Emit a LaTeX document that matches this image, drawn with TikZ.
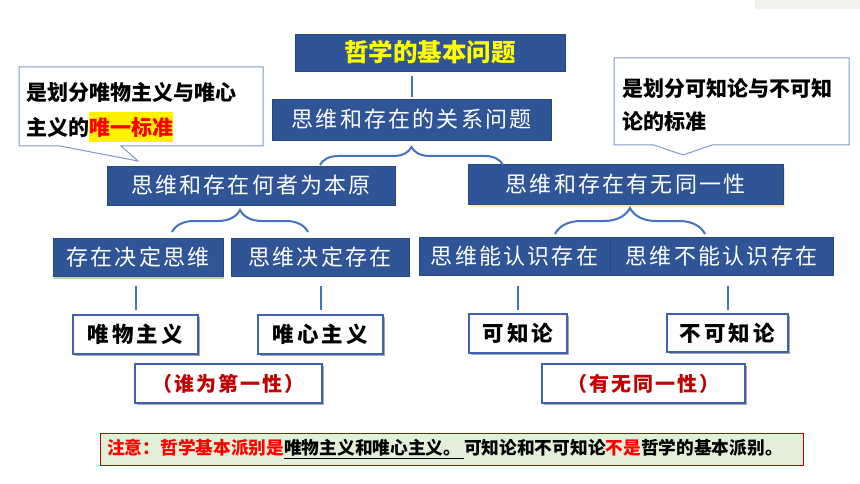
\documentclass[tikz,border=0pt]{standalone}
\usepackage{fontspec}
\setmainfont{Noto Sans CJK SC}
\newfontfamily\kaifont[LetterSpace=10]{Noto Sans CJK SC}
\newfontfamily\wfont[LetterSpace=14]{Noto Sans CJK SC}
\newfontfamily\rfont[LetterSpace=10]{Noto Sans CJK SC}
\usetikzlibrary{shadows,decorations.pathreplacing}
\definecolor{dblue}{HTML}{2F5597}
\definecolor{lblue}{HTML}{4472C4}
\definecolor{wborder}{HTML}{3F62B0}
\definecolor{cborder}{HTML}{7F9BD0}
\definecolor{notefill}{HTML}{E2F0D9}
\definecolor{darkred}{HTML}{C00000}
\definecolor{brightred}{HTML}{FF0000}
\definecolor{titleyellow}{HTML}{FFFF00}
\definecolor{stripcol}{HTML}{F2F2EC}
\definecolor{glowyellow}{HTML}{FFE699}
\definecolor{glowgreen}{HTML}{A9D18E}
\setlength{\fboxsep}{0pt}
\begin{document}
\begin{tikzpicture}[x=1pt,y=-1pt,
  bluebox/.style={fill=dblue, draw=dblue!85!black, line width=0.5pt, text=white, inner sep=0pt,
    font=\kaifont\fontsize{22}{22}\selectfont},
  whitebox/.style={fill=white, draw=wborder, line width=2.2pt, inner sep=0pt,
    font=\wfont\bfseries\fontsize{21.5}{21.5}\selectfont,
    drop shadow={shadow xshift=2pt, shadow yshift=-2pt, opacity=0.35, fill=black}},
  redbox/.style={whitebox, text=darkred, font=\rfont\bfseries\fontsize{20}{20}\selectfont},
  conn/.style={draw=lblue, line width=2pt},
  bracestyle/.style={conn, decorate, decoration={brace, amplitude=#1}},
  calltext/.style={anchor=west, inner sep=0pt, font=\bfseries\fontsize{21}{21}\selectfont},
  callout/.style={fill=white, draw=cborder, line width=1pt}
]
\useasboundingbox (0,0) rectangle (860,484);
\fill[white] (0,0) rectangle (860,484);
\fill[stripcol] (755,0) rectangle (860,9);

% callouts
\filldraw[callout] (19,67) -- (263,67) -- (263,146) -- (121,146) -- (138,161) -- (60,146) -- (19,146) -- cycle;
\node[calltext] (cl1) at (26,93) {是划分唯物主义与唯心};
\node[calltext] (cl2) at (26,127) {主义的\colorbox{yellow}{\rule[-0.3em]{0pt}{1.4em}\textcolor{brightred}{唯一标准}}};

\filldraw[callout] (614,58) -- (849,58) -- (849,145) -- (712,145) -- (683,155) -- (654,145) -- (614,145) -- cycle;
\node[calltext] (cr1) at (622,89) {是划分可知论与不可知};
\node[calltext] (cr2) at (622,121) {论的标准};

% blue boxes
\node[bluebox, font=\bfseries\fontsize{24.5}{24.5}\selectfont, text=titleyellow,
  minimum width=270pt, minimum height=37pt] (title) at (430,52.5) {哲学的基本问题};
\node[bluebox, minimum width=279pt, minimum height=41pt] (b2) at (411.5,119.5) {思维和存在的关系问题};
\node[bluebox, minimum width=288pt, minimum height=39pt] (b3) at (251,185.5) {思维和存在何者为本原};
\node[bluebox, minimum width=315pt, minimum height=40pt,
  drop shadow={shadow xshift=1.5pt, shadow yshift=-3pt, opacity=0.8, fill=glowyellow}] (b4) at (625.5,184) {思维和存在有无同一性};
\node[bluebox, minimum width=170pt, minimum height=38pt,
  drop shadow={shadow xshift=1pt, shadow yshift=-3pt, opacity=0.8, fill=glowgreen}] (b5) at (138,257) {存在决定思维};
\node[bluebox, minimum width=178pt, minimum height=38pt] (b6) at (320,257) {思维决定存在};
\node[bluebox, minimum width=191pt, minimum height=38pt] (b7) at (514.5,256) {思维能认识存在};
\node[bluebox, minimum width=223pt, minimum height=38pt] (b8) at (721.5,256) {思维不能认识存在};

% white boxes
\node[whitebox, minimum width=125pt, minimum height=39pt] (w1) at (135.5,334.5) {唯物主义};
\node[whitebox, minimum width=125pt, minimum height=39pt] (w2) at (320.5,334.5) {唯心主义};
\node[redbox, minimum width=187pt, minimum height=39pt] (w3) at (228.5,383.5) {（谁为第一性）};
\node[whitebox, minimum width=98pt, minimum height=39pt] (w4) at (518,333.5) {可知论};
\node[whitebox, minimum width=121pt, minimum height=38pt] (w5) at (727.5,333) {不可知论};
\node[redbox, minimum width=203pt, minimum height=39pt] (w6) at (643.5,383.5) {（有无同一性）};

% connectors
\draw[conn, shorten <=5pt, shorten >=2pt] (b2.north |- title.south) -- (b2.north);
\coordinate (brA1) at (320,165); \coordinate (brA2) at (503,165);
\coordinate (brB1) at (172,232); \coordinate (brB2) at (308,232);
\coordinate (brC1) at (555,234); \coordinate (brC2) at (705,234);
\draw[bracestyle=18pt] (brA1) -- (brA2);
\draw[bracestyle=22pt] (brB1) -- (brB2);
\draw[bracestyle=26pt] (brC1) -- (brC2);
\draw[conn, shorten <=10pt, shorten >=4pt] (w1.north |- b5.south) -- (w1.north);
\draw[conn, shorten <=10pt, shorten >=4pt] (w2.north |- b6.south) -- (w2.north);
\draw[conn, shorten <=11pt, shorten >=3pt] (w4.north |- b7.south) -- (w4.north);
\draw[conn, shorten <=11pt, shorten >=3pt] (w5.north |- b8.south) -- (w5.north);

% note
\node[fill=notefill, draw=darkred, line width=0.8pt, minimum width=703pt, minimum height=32pt, inner sep=0pt] (note) at (451.5,449) {};
\node[anchor=west, inner sep=0pt, font=\bfseries\fontsize{17.7}{17.7}\selectfont] (notetext) at (107,449)
  {\textcolor{brightred}{注意：哲学基本派别是}\underline{唯物主义和唯心主义。\,}可知论和不可知论\textcolor{brightred}{不是}哲学的基本派别。};
\end{tikzpicture}
\end{document}
